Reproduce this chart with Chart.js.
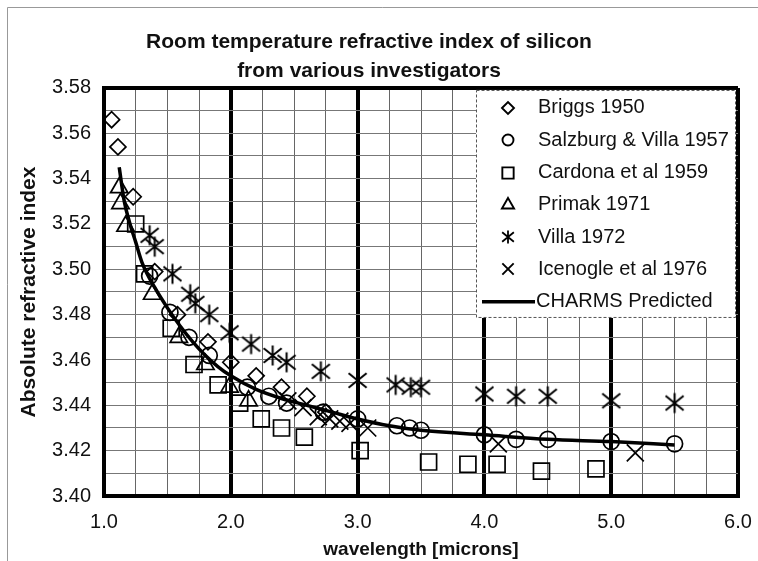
<!DOCTYPE html>
<html>
<head>
<meta charset="utf-8">
<script src="https://cdn.jsdelivr.net/npm/chart.js@4.4.1/dist/chart.umd.min.js"></script>
<style>
  html, body { margin: 0; padding: 0; background: #fff; }
</style>
</head>
<body>
<canvas id="myChart" width="758" height="561"></canvas>
<script>
// values
var briggsX = [1.06, 1.11, 1.23, 1.40, 1.58, 1.82, 2.00, 2.20, 2.40, 2.60, 2.75];
var briggsY = [3.566, 3.554, 3.532, 3.499, 3.480, 3.468, 3.459, 3.453, 3.448, 3.444, 3.437];

var salzX = [1.36, 1.52, 1.67, 1.83, 2.13, 2.30, 2.44, 2.73, 3.00, 3.31, 3.41, 3.50, 4.00, 4.25, 4.50, 5.00, 5.50];
var salzY = [3.497, 3.481, 3.470, 3.462, 3.448, 3.444, 3.441, 3.437, 3.434, 3.431, 3.430, 3.429, 3.427, 3.425, 3.425, 3.424, 3.423];

var cardonaX = [1.25, 1.32, 1.53, 1.71, 1.90, 2.07, 2.24, 2.40, 2.58, 3.02, 3.56, 3.87, 4.10, 4.45, 4.88];
var cardonaY = [3.520, 3.498, 3.474, 3.458, 3.449, 3.441, 3.434, 3.430, 3.426, 3.420, 3.415, 3.414, 3.414, 3.411, 3.412];

var primakX = [1.12, 1.13, 1.17, 1.38, 1.59, 1.80, 1.99, 2.14];
var primakY = [3.536, 3.529, 3.519, 3.489, 3.470, 3.458, 3.448, 3.442];

var villaX = [1.36, 1.40, 1.54, 1.68, 1.72, 1.83, 1.99, 2.16, 2.33, 2.44, 2.71, 3.00, 3.30, 3.42, 3.50, 4.00, 4.25, 4.50, 5.00, 5.50];
var villaY = [3.515, 3.510, 3.498, 3.489, 3.485, 3.480, 3.472, 3.467, 3.462, 3.459, 3.455, 3.451, 3.449, 3.448, 3.448, 3.445, 3.444, 3.444, 3.442, 3.441];

var iceX = [2.45, 2.57, 2.69, 2.78, 2.86, 2.94, 3.08, 4.11, 5.19];
var iceY = [3.442, 3.439, 3.435, 3.434, 3.433, 3.432, 3.430, 3.423, 3.419];

var charmsX = [1.12, 1.16, 1.20, 1.25, 1.30, 1.40, 1.50, 1.60, 1.70, 1.80, 1.90, 2.00, 2.20, 2.40, 2.60, 2.80, 3.00, 3.25, 3.50, 4.00, 4.50, 5.00, 5.50];
var charmsY = [3.545, 3.530, 3.521, 3.512, 3.503, 3.492, 3.483, 3.475, 3.468, 3.462, 3.457, 3.453, 3.447, 3.443, 3.440, 3.437, 3.434, 3.431, 3.429, 3.427, 3.425, 3.424, 3.4225];

var seriesNames = ['Briggs 1950', 'Salzburg & Villa 1957', 'Cardona et al 1959', 'Primak 1971', 'Villa 1972', 'Icenogle et al 1976', 'CHARMS Predicted'];

var xMin = 1, xMax = 6, xStep = 0.25;
var yMin = 3.40, yMax = 3.58, yStep = 0.01;

var FONT = '"Liberation Sans", Arial, sans-serif';

function pts(xs, ys) {
    return xs.map(function(x, i){ return {x: x, y: ys[i]}; });
}

// asterisk marker (vertical bar + X)
function makeStar(size, lw) {
    var c = document.createElement('canvas');
    c.width = size; c.height = size;
    var g = c.getContext('2d');
    var h = size / 2, a = h - 1.5;
    g.strokeStyle = '#000';
    g.lineWidth = lw;
    g.beginPath();
    g.moveTo(h, h - a); g.lineTo(h, h + a);
    g.moveTo(h - a * 0.9, h - a * 0.72); g.lineTo(h + a * 0.9, h + a * 0.72);
    g.moveTo(h + a * 0.9, h - a * 0.72); g.lineTo(h - a * 0.9, h + a * 0.72);
    g.stroke();
    return c;
}
var starBig = makeStar(23, 2);
var starSmall = makeStar(16, 1.8);

function isInt(v) { return Math.abs(v - Math.round(v)) < 1e-6; }

function marker(style, r) {
    return {
        showLine: false,
        pointStyle: style,
        pointRadius: r,
        pointHoverRadius: r,
        pointBorderColor: '#000',
        pointBackgroundColor: 'rgba(0,0,0,0)',
        pointBorderWidth: 1.7,
        borderColor: '#000',
        backgroundColor: 'rgba(0,0,0,0)'
    };
}

var datasets = [
    {label: seriesNames[6], data: pts(charmsX, charmsY), showLine: true, pointRadius: 0,
        borderColor: '#000', borderWidth: 3.5, cubicInterpolationMode: 'monotone', order: 0},
    Object.assign(marker('rectRot', 8), {label: seriesNames[0], data: pts(briggsX, briggsY), order: 1}),
    Object.assign(marker('circle', 8), {label: seriesNames[1], data: pts(salzX, salzY), order: 2}),
    Object.assign(marker('rect', 11.3), {label: seriesNames[2], data: pts(cardonaX, cardonaY), order: 3}),
    Object.assign(marker('triangle', 10), {label: seriesNames[3], data: pts(primakX, primakY), order: 4}),
    Object.assign(marker(starBig, 10), {label: seriesNames[4], data: pts(villaX, villaY), order: 5}),
    Object.assign(marker('crossRot', 12), {label: seriesNames[5], data: pts(iceX, iceY), order: 6})
];

var legendStyles = ['rectRot', 'circle', 'rect', 'triangle', starSmall, 'crossRot', 'line'];
var legendRadius = [6, 5.5, 8, 7, 6, 8, 0];

// legend box drawn inside the plot area, top right
var insideLegend = {
    id: 'insideLegend',
    afterDraw: function(chart) {
        var ctx = chart.ctx, area = chart.chartArea;
        var boxW = 262, boxH = 228;
        var left = area.right - boxW, top = area.top + 2;
        ctx.save();
        ctx.fillStyle = '#fff';
        ctx.fillRect(left, top, boxW - 2, boxH);
        ctx.strokeStyle = '#555';
        ctx.lineWidth = 1;
        ctx.setLineDash([3, 2]);
        ctx.strokeRect(left + 0.5, top + 0.5, boxW - 3, boxH - 1);
        ctx.setLineDash([]);
        ctx.font = '20px ' + FONT;
        ctx.textBaseline = 'middle';
        for (var i = 0; i < seriesNames.length; i++) {
            var cy = top + 18 + i * 32.3;
            var cx = left + 32;
            ctx.strokeStyle = '#000';
            if (legendStyles[i] === 'line') {
                ctx.lineWidth = 3.5;
                ctx.beginPath();
                ctx.moveTo(left + 6, cy);
                ctx.lineTo(left + 59, cy);
                ctx.stroke();
                ctx.fillStyle = '#111';
                ctx.fillText(seriesNames[i], left + 60, cy);
            } else {
                ctx.fillStyle = 'rgba(0,0,0,0)';
                ctx.lineWidth = 1.9;
                Chart.helpers.drawPoint(ctx, {pointStyle: legendStyles[i], radius: legendRadius[i], rotation: 0, borderWidth: 1.9}, Math.round(cx), Math.round(cy));
                ctx.fillStyle = '#111';
                ctx.fillText(seriesNames[i], left + 62, cy);
            }
        }
        ctx.restore();
    }
};

// faint outer frame lines of the scanned page
var pageFrame = {
    id: 'pageFrame',
    beforeDraw: function(chart) {
        var ctx = chart.ctx;
        ctx.save();
        ctx.fillStyle = '#fff';
        ctx.fillRect(0, 0, chart.width, chart.height);
        ctx.strokeStyle = '#999';
        ctx.lineWidth = 1;
        ctx.beginPath();
        ctx.moveTo(7.5, chart.height);
        ctx.lineTo(7.5, 7.5);
        ctx.lineTo(chart.width, 7.5);
        ctx.stroke();
        ctx.restore();
    }
};

const ctx = document.getElementById('myChart');

let chart = new Chart(ctx, {
    type: 'scatter',
    data: { datasets: datasets },
    plugins: [pageFrame, insideLegend],
    options: {
        responsive: false,
        animation: false,
        layout: { padding: { top: 0, right: 20, bottom: 0, left: 0 } },
        plugins: {
            legend: { display: false },
            tooltip: { enabled: false },
            title: {
                display: true,
                text: ['Room temperature refractive index of silicon', 'from various investigators'],
                color: '#111',
                font: { family: FONT, size: 21, weight: 'bold', lineHeight: 1.38 },
                padding: { top: 28, bottom: 2 }
            }
        },
        scales: {
            x: {
                type: 'linear',
                min: xMin,
                max: xMax,
                afterFit: function(s) { s.height = 65; },
                ticks: {
                    stepSize: xStep,
                    autoSkip: false,
                    maxRotation: 0,
                    padding: 0,
                    color: '#111',
                    font: { family: FONT, size: 20 },
                    callback: function(v) { return isInt(v) ? v.toFixed(1) : ''; }
                },
                grid: {
                    drawTicks: true,
                    tickLength: 14,
                    tickColor: 'rgba(0,0,0,0)',
                    color: function(c) { return c.tick && isInt(c.tick.value) ? '#000' : '#666'; },
                    lineWidth: function(c) { return c.tick && isInt(c.tick.value) ? 4 : 1; }
                },
                border: { display: true, color: '#000', width: 4 },
                title: {
                    display: true,
                    text: 'wavelength [microns]',
                    color: '#111',
                    font: { family: FONT, size: 19, weight: 'bold' },
                    padding: { top: 7, bottom: 0 }
                }
            },
            y: {
                type: 'linear',
                min: yMin,
                max: yMax,
                afterFit: function(s) { s.width = 104; },
                ticks: {
                    stepSize: yStep,
                    autoSkip: false,
                    padding: 13,
                    color: '#111',
                    font: { family: FONT, size: 20 },
                    callback: function(v) {
                        var k = Math.round(v * 100);
                        return k % 2 === 0 ? (k / 100).toFixed(2) : '';
                    }
                },
                grid: {
                    drawTicks: false,
                    color: function(c) { return c.tick && Math.abs(c.tick.value - yMax) < 1e-6 ? '#000' : '#777'; },
                    lineWidth: function(c) { return c.tick && Math.abs(c.tick.value - yMax) < 1e-6 ? 4 : 1; }
                },
                border: { display: true, color: '#000', width: 4 },
                title: {
                    display: true,
                    text: 'Absolute refractive index',
                    color: '#111',
                    font: { family: FONT, size: 21, weight: 'bold' },
                    padding: { top: 17, bottom: 0 }
                }
            }
        }
    }
});
</script>
</body>
</html>
